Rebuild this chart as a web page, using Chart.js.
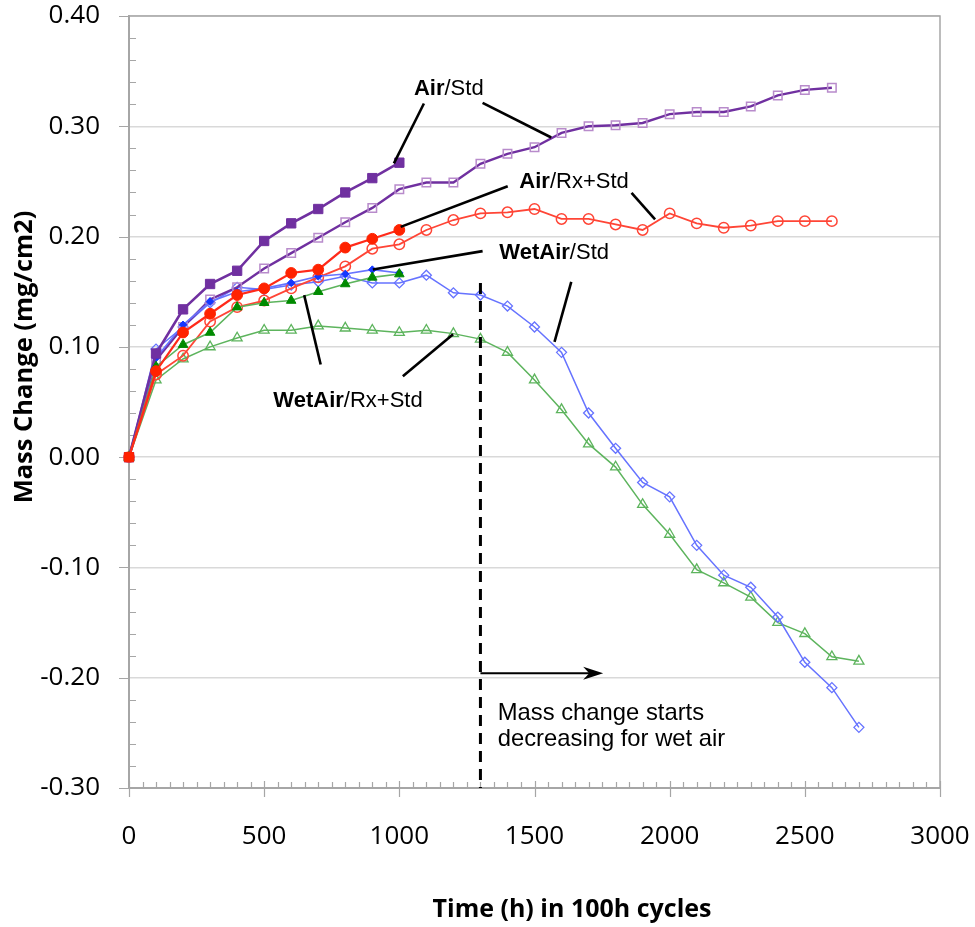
<!DOCTYPE html>
<html><head><meta charset="utf-8">
<script src="https://cdn.jsdelivr.net/npm/chart.js@4/dist/chart.umd.min.js"></script>
<style>html,body{margin:0;padding:0;background:#fff}#wrap{width:975px;height:927px;position:relative}</style>
</head><body><div id="wrap"><canvas id="c"></canvas></div>
<script>
// ---- data ----
const hours = [0,100,200,300,400,500,600,700,800,900,1000,1100,1200,1300,1400,1500,1600,1700,1800,1900,2000,2100,2200,2300,2400,2500,2600,2700];
const airStdRef  = [0,0.094,0.134,0.157,0.169,0.196,0.212,0.225,0.240,0.253,0.267];
const airStd     = [0,0.088,0.118,0.143,0.154,0.171,0.185,0.199,0.213,0.226,0.243,0.249,0.249,0.266,0.275,0.281,0.294,0.300,0.301,0.303,0.311,0.313,0.313,0.318,0.328,0.333,0.335];
const airRxRef   = [0,0.078,0.113,0.130,0.147,0.153,0.167,0.170,0.190,0.198,0.206];
const airRx      = [0,0.075,0.092,0.123,0.136,0.142,0.153,0.163,0.173,0.189,0.193,0.206,0.215,0.221,0.222,0.225,0.216,0.216,0.211,0.206,0.221,0.212,0.208,0.210,0.214,0.214,0.214];
const wetStdRef  = [0,0.090,0.120,0.141,0.150,0.153,0.158,0.164,0.166,0.170,0.167];
const wetStd     = [0,0.098,0.118,0.140,0.154,0.152,0.156,0.159,0.164,0.158,0.158,0.165,0.149,0.147,0.137,0.118,0.095,0.040,0.008,-0.023,-0.036,-0.080,-0.107,-0.118,-0.145,-0.186,-0.209,-0.245];
const wetRxRef   = [0,0.082,0.102,0.113,0.136,0.140,0.142,0.150,0.157,0.163,0.166];
const wetRx      = [0,0.070,0.089,0.100,0.108,0.115,0.115,0.119,0.117,0.115,0.113,0.115,0.112,0.107,0.095,0.070,0.043,0.012,-0.009,-0.043,-0.070,-0.102,-0.114,-0.127,-0.150,-0.160,-0.181,-0.185];
const xTickLabels = ['0','500','1000','1500','2000','2500','3000'];
const yTickLabels = ['-0.30','-0.20','-0.10','0.00','0.10','0.20','0.30','0.40'];
const seriesLabels = ['Air/Std','Air/Rx+Std','WetAir/Std','WetAir/Rx+Std'];
const xTitle = 'Time (h) in 100h cycles';
const yTitle = 'Mass Change (mg/cm2)';
const noteLines = ['Mass change starts','decreasing for wet air'];
const onsetHour = 1300;

function pts(ys){ return ys.map((v,i)=>({x:hours[i], y:v})); }

// ---- styles ----
const PURPLE='#7030A0', PURPLE_L='#B88BCB', RED='#FF2A1A', RED_L='#FF4536', BLUE='#1537FF', BLUE_L='#6673FF', GREEN='#008A00', GREEN_L='#5DB45D';

const datasets = [
  {label:'Air/Rx+Std ref', data:pts(airRxRef), borderColor:RED, backgroundColor:RED, borderWidth:2.2, clip:false,
   pointStyle:c=>c.dataIndex===0?'rect':'circle', pointRadius:c=>c.dataIndex===0?6.5:5.4, pointBackgroundColor:'#FF2200', pointBorderColor:'#FF2200', pointBorderWidth:1},
  {label:'WetAir/Rx+Std ref', data:pts(wetRxRef), borderColor:GREEN_L, backgroundColor:GREEN, borderWidth:1.6, clip:false,
   pointStyle:'triangle', pointRadius:5.5, pointBackgroundColor:GREEN, pointBorderColor:GREEN, pointBorderWidth:1},
  {label:'Air/Std ref', data:pts(airStdRef), borderColor:PURPLE, backgroundColor:PURPLE, borderWidth:2.6, clip:false,
   pointStyle:'rect', pointRadius:6.6, pointBackgroundColor:PURPLE, pointBorderColor:PURPLE, pointBorderWidth:1},
  {label:'WetAir/Std ref', data:pts(wetStdRef), borderColor:BLUE_L, backgroundColor:BLUE, borderWidth:1.6, clip:false,
   pointStyle:'rectRot', pointRadius:3.8, pointBackgroundColor:BLUE, pointBorderColor:BLUE, pointBorderWidth:1},
  {label:'Air/Rx+Std', data:pts(airRx), borderColor:RED_L, backgroundColor:'rgba(0,0,0,0)', borderWidth:1.8, clip:false,
   pointStyle:'circle', pointRadius:5.2, pointBackgroundColor:'rgba(255,255,255,0)', pointBorderColor:RED_L, pointBorderWidth:1.5},
  {label:'Air/Std', data:pts(airStd), borderColor:PURPLE, backgroundColor:'rgba(0,0,0,0)', borderWidth:2.4, clip:false,
   pointStyle:'rect', pointRadius:6, pointBackgroundColor:'rgba(255,255,255,0)', pointBorderColor:PURPLE_L, pointBorderWidth:1.5},
  {label:'WetAir/Std', data:pts(wetStd), borderColor:BLUE_L, backgroundColor:'rgba(0,0,0,0)', borderWidth:1.5, clip:false,
   pointStyle:'rectRot', pointRadius:5, pointBackgroundColor:'rgba(255,255,255,0)', pointBorderColor:BLUE_L, pointBorderWidth:1.3},
  {label:'WetAir/Rx+Std', data:pts(wetRx), borderColor:GREEN_L, backgroundColor:'rgba(0,0,0,0)', borderWidth:1.5, clip:false,
   pointStyle:'triangle', pointRadius:5.8, pointBackgroundColor:'rgba(255,255,255,0)', pointBorderColor:GREEN_L, pointBorderWidth:1.3},
];

// annotation placement (data units)
const labelPos = [
  {bold:'Air',    rest:'/Std',    x:1054, y:0.3282},
  {bold:'Air',    rest:'/Rx+Std', x:1444, y:0.2436},
  {bold:'WetAir', rest:'/Std',    x:1370, y:0.1795},
  {bold:'WetAir', rest:'/Rx+Std', x:534,  y:0.0451},
];
const leaders = [
  [1091,0.3207, 980,0.2663],
  [1308,0.3212, 1562,0.2898],
  [1401,0.2457, 1005,0.2088],
  [1859,0.2396, 1946,0.2155],
  [1308,0.1868, 902,0.1702],
  [1636,0.1589, 1574,0.1045],
  [709,0.0840, 648,0.1469],
  [1013,0.0734, 1199,0.1115],
];
const dashTop = 0.158, arrowY = -0.196, arrowEnd = 1754;
const notePos = {x:1364, y1:-0.2384, y2:-0.262};

const AXIS_GRAY = '#A6A6A6';

function zeroPad(s){ s.paddingTop=0; s.paddingBottom=0; s.paddingLeft=0; s.paddingRight=0; }

const decor = {
  id:'decor',
  beforeDatasetsDraw(chart){
    const {ctx, chartArea:a, scales:{x, y}} = chart;
    ctx.save();
    ctx.strokeStyle = AXIS_GRAY; ctx.lineWidth = 1.5;
    ctx.beginPath();
    ctx.moveTo(a.left, a.top); ctx.lineTo(a.right, a.top); ctx.lineTo(a.right, a.bottom);
    ctx.stroke();
    ctx.lineWidth = 1.2;
    ctx.beginPath();
    for (let h=0; h<=3000; h+=50){
      const px = Math.round(x.getPixelForValue(h))+0.5;
      if (h%500===0){ ctx.moveTo(px, a.bottom-7); ctx.lineTo(px, a.bottom+9); }
      else { ctx.moveTo(px, a.bottom); ctx.lineTo(px, a.bottom-6); }
    }
    for (let k=-15; k<=20; k++){
      const v = k*0.02;
      const py = Math.round(y.getPixelForValue(v))+0.5;
      if (k%5===0){ ctx.moveTo(a.left-10, py); ctx.lineTo(a.left, py); }
      else { ctx.moveTo(a.left, py); ctx.lineTo(a.left+7, py); }
    }
    ctx.stroke();
    ctx.restore();
  },
  afterDatasetsDraw(chart){
    const {ctx, chartArea:a, scales:{x, y}} = chart;
    const X = v=>x.getPixelForValue(v), Y = v=>y.getPixelForValue(v);
    ctx.save();
    ctx.strokeStyle = '#000'; ctx.lineWidth = 2.6; ctx.lineCap='butt';
    leaders.forEach(l=>{ ctx.beginPath(); ctx.moveTo(X(l[0]),Y(l[1])); ctx.lineTo(X(l[2]),Y(l[3])); ctx.stroke(); });
    ctx.setLineDash([11,7]); ctx.lineWidth = 3;
    ctx.beginPath(); ctx.moveTo(X(onsetHour), Y(dashTop)); ctx.lineTo(X(onsetHour), a.bottom); ctx.stroke();
    ctx.setLineDash([]);
    const ax0 = X(onsetHour), ax1 = X(arrowEnd), ay = Y(arrowY);
    ctx.lineWidth = 2;
    ctx.beginPath(); ctx.moveTo(ax0, ay); ctx.lineTo(ax1-8, ay); ctx.stroke();
    ctx.fillStyle = '#000';
    ctx.beginPath(); ctx.moveTo(ax1, ay); ctx.lineTo(ax1-20, ay-6.5); ctx.lineTo(ax1-14, ay); ctx.lineTo(ax1-20, ay+6.5); ctx.closePath(); ctx.fill();
    ctx.textBaseline = 'alphabetic'; ctx.textAlign = 'left'; ctx.fillStyle = '#000';
    labelPos.forEach(p=>{
      const px = X(p.x), py = Y(p.y);
      ctx.font = 'bold 22px "Liberation Sans", Arial, sans-serif';
      ctx.fillText(p.bold, px, py);
      const w = ctx.measureText(p.bold).width;
      ctx.font = '22px "Liberation Sans", Arial, sans-serif';
      ctx.fillText(p.rest, px+w, py);
    });
    ctx.font = '23.8px "Liberation Sans", Arial, sans-serif';
    ctx.fillText(noteLines[0], X(notePos.x), Y(notePos.y1));
    ctx.fillText(noteLines[1], X(notePos.x), Y(notePos.y2));
    ctx.restore();
  },
  afterDraw(chart){
    const {ctx} = chart;
    ctx.save();
    ctx.fillStyle = '#000';
    ctx.textAlign = 'center'; ctx.textBaseline = 'middle';
    ctx.font = 'bold 25px "Open Sans", sans-serif';
    ctx.fillText(xTitle, 572, 910);
    ctx.font = 'bold 25.5px "Open Sans", sans-serif';
    ctx.translate(25, 357); ctx.rotate(-Math.PI/2);
    ctx.fillText(yTitle, 0, 0);
    ctx.restore();
  }
};

new Chart(document.getElementById('c'), {
  type:'line',
  data:{datasets},
  plugins:[decor],
  options:{
    responsive:true, maintainAspectRatio:false, animation:false,
    layout:{padding:{top:16, right:35, left:0, bottom:0}},
    plugins:{legend:{display:false}, tooltip:{enabled:false}},
    elements:{line:{tension:0}},
    scales:{
      x:{type:'linear', min:0, max:3000,
         afterFit:s=>{s.height=139; zeroPad(s);},
         afterBuildTicks:s=>{ s.ticks = xTickLabels.map(t=>({value:Number(t)})); },
         ticks:{callback:(v,i)=>xTickLabels[i], font:{family:'"Open Sans"', size:26}, color:'#000', padding:33, maxRotation:0, autoSkip:false},
         grid:{display:false, drawTicks:false},
         border:{display:true, color:AXIS_GRAY, width:2}},
      y:{type:'linear', min:-0.3, max:0.4,
         afterFit:s=>{s.width=129; zeroPad(s);},
         afterBuildTicks:s=>{ s.ticks = yTickLabels.map(t=>({value:Number(t)})); },
         ticks:{callback:(v,i)=>yTickLabels[i], font:{family:'"Open Sans"', size:26}, color:'#000', padding:29, autoSkip:false},
         grid:{color:'#D9D9D9', lineWidth:1.5, drawTicks:false},
         border:{display:true, color:AXIS_GRAY, width:2}}
    }
  }
});
</script>
</body></html>
